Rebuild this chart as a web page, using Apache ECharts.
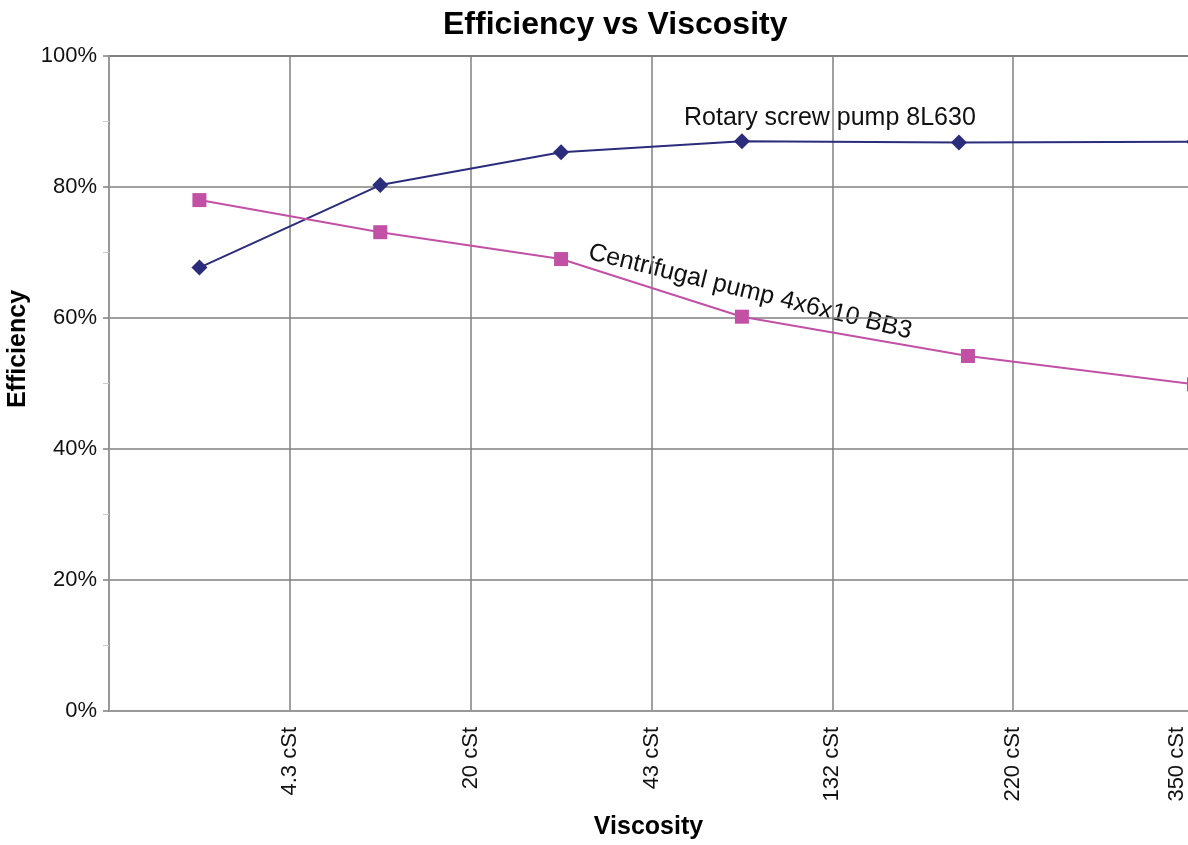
<!DOCTYPE html>
<html>
<head>
<meta charset="utf-8">
<title>Efficiency vs Viscosity</title>
<script src="https://cdn.jsdelivr.net/npm/echarts@6/dist/echarts.min.js"></script>
<style>
    html, body { margin: 0; padding: 0; background: #fff; }
    #main { width: 1188px; height: 845px; }
</style>
</head>
<body>
<div id="main"></div>
<script>
// x 轴刻度标签（位置 0..6）
var xTickLabels = ['', '4.3 cSt', '20 cSt', '43 cSt', '132 cSt', '220 cSt', '350 cSt'];

// 螺杆泵 8L630
var screwX = [0.5, 1.5, 2.5, 3.5, 4.7, 6];
var screwY = [67.7, 80.3, 85.3, 87.0, 86.8, 86.9];

// 离心泵 4x6x10 BB3
var centriX = [0.5, 1.5, 2.5, 3.5, 4.75, 6];
var centriY = [78.0, 73.1, 69.0, 60.2, 54.2, 49.9];

var FONT = 'Liberation Sans, Arial, sans-serif';

/**
 * 把 x、y 数组拼成点
 */
var toPoints = function(xs, ys){
    var out = [];
    for(var i = 0; i < xs.length; i++){
        out.push([xs[i], ys[i]]);
    }
    return out;
};

var chart = echarts.init(document.getElementById('main'));

var option = {
    animation: false,
    title: {
        text: 'Efficiency vs Viscosity',
        left: 438,
        top: 4,
        textStyle: { fontFamily: FONT, fontSize: 32, fontWeight: 'bold', color: '#000' }
    },
    grid: {
        left: 109,
        width: 1085,   // 右边缘略超出画布
        top: 56,
        bottom: 134,
        outerBoundsMode: 'none',
        show: true,
        borderColor: '#555',
        borderWidth: 1.5
    },
    xAxis: {
        type: 'value',
        min: 0,
        max: 6,
        interval: 1,
        name: 'Viscosity',
        nameLocation: 'middle',
        nameGap: 104,
        nameTextStyle: { fontFamily: FONT, fontSize: 25, fontWeight: 'bold', color: '#000', padding: [0, 6, 0, 0] },
        axisLine: { lineStyle: { color: '#999', width: 2 } },
        axisTick: { show: false },
        splitLine: { show: true, lineStyle: { color: '#808080', width: 1.5 } },
        axisLabel: {
            rotate: 90,
            margin: 16,
            fontFamily: FONT,
            fontSize: 22,
            color: '#111',
            formatter: function(v){
                var t = xTickLabels[Math.round(v)] || '';
                // 最后一个标签往左挪一点，避免被裁掉
                return v === 6 ? '{last|' + t + '}' : t;
            },
            rich: {
                last: { fontFamily: FONT, fontSize: 22, color: '#111', padding: [0, 0, 34, 0] }
            }
        }
    },
    yAxis: {
        type: 'value',
        min: 0,
        max: 100,
        interval: 20,
        axisLine: { show: true, lineStyle: { color: '#999', width: 2 } },
        axisTick: { show: true, length: 6, lineStyle: { color: '#808080', width: 1.5 } },
        minorTick: { show: true, splitNumber: 2, length: 6, lineStyle: { color: '#ccc', width: 1 } },
        splitLine: { show: true, lineStyle: { color: '#808080', width: 1.5 } },
        axisLabel: {
            margin: 12,
            fontFamily: FONT,
            fontSize: 22,
            color: '#111',
            formatter: '{value}%'
        }
    },
    graphic: [
        {
            type: 'text',
            x: 18,
            y: 349,
            rotation: Math.PI / 2,
            style: {
                text: 'Efficiency',
                fontFamily: FONT,
                fontSize: 25,
                fontWeight: 'bold',
                fill: '#000',
                textAlign: 'center',
                textVerticalAlign: 'middle'
            }
        },
        {
            type: 'text',
            x: 684,
            y: 118,
            style: {
                text: 'Rotary screw pump 8L630',
                fontFamily: FONT,
                fontSize: 25,
                fill: '#111',
                textAlign: 'left',
                textVerticalAlign: 'middle'
            }
        },
        {
            type: 'text',
            x: 589,
            y: 252,
            rotation: -0.2426,
            style: {
                text: 'Centrifugal pump 4x6x10 BB3',
                fontFamily: FONT,
                fontSize: 25,
                fill: '#111',
                textAlign: 'left',
                textVerticalAlign: 'middle'
            }
        }
    ],
    series: [
        {
            name: 'Rotary screw pump 8L630',
            type: 'line',
            data: toPoints(screwX, screwY),
            symbol: 'diamond',
            symbolSize: [16, 16],
            clip: false,
            itemStyle: { color: '#2b2c7c' },
            lineStyle: { color: '#2b2c7c', width: 2 }
        },
        {
            name: 'Centrifugal pump 4x6x10 BB3',
            type: 'line',
            data: toPoints(centriX, centriY),
            symbol: 'rect',
            symbolSize: 14,
            clip: false,
            itemStyle: { color: '#c251a6' },
            lineStyle: { color: '#c251a6', width: 2 }
        }
    ]
};

chart.setOption(option);
</script>
</body>
</html>
